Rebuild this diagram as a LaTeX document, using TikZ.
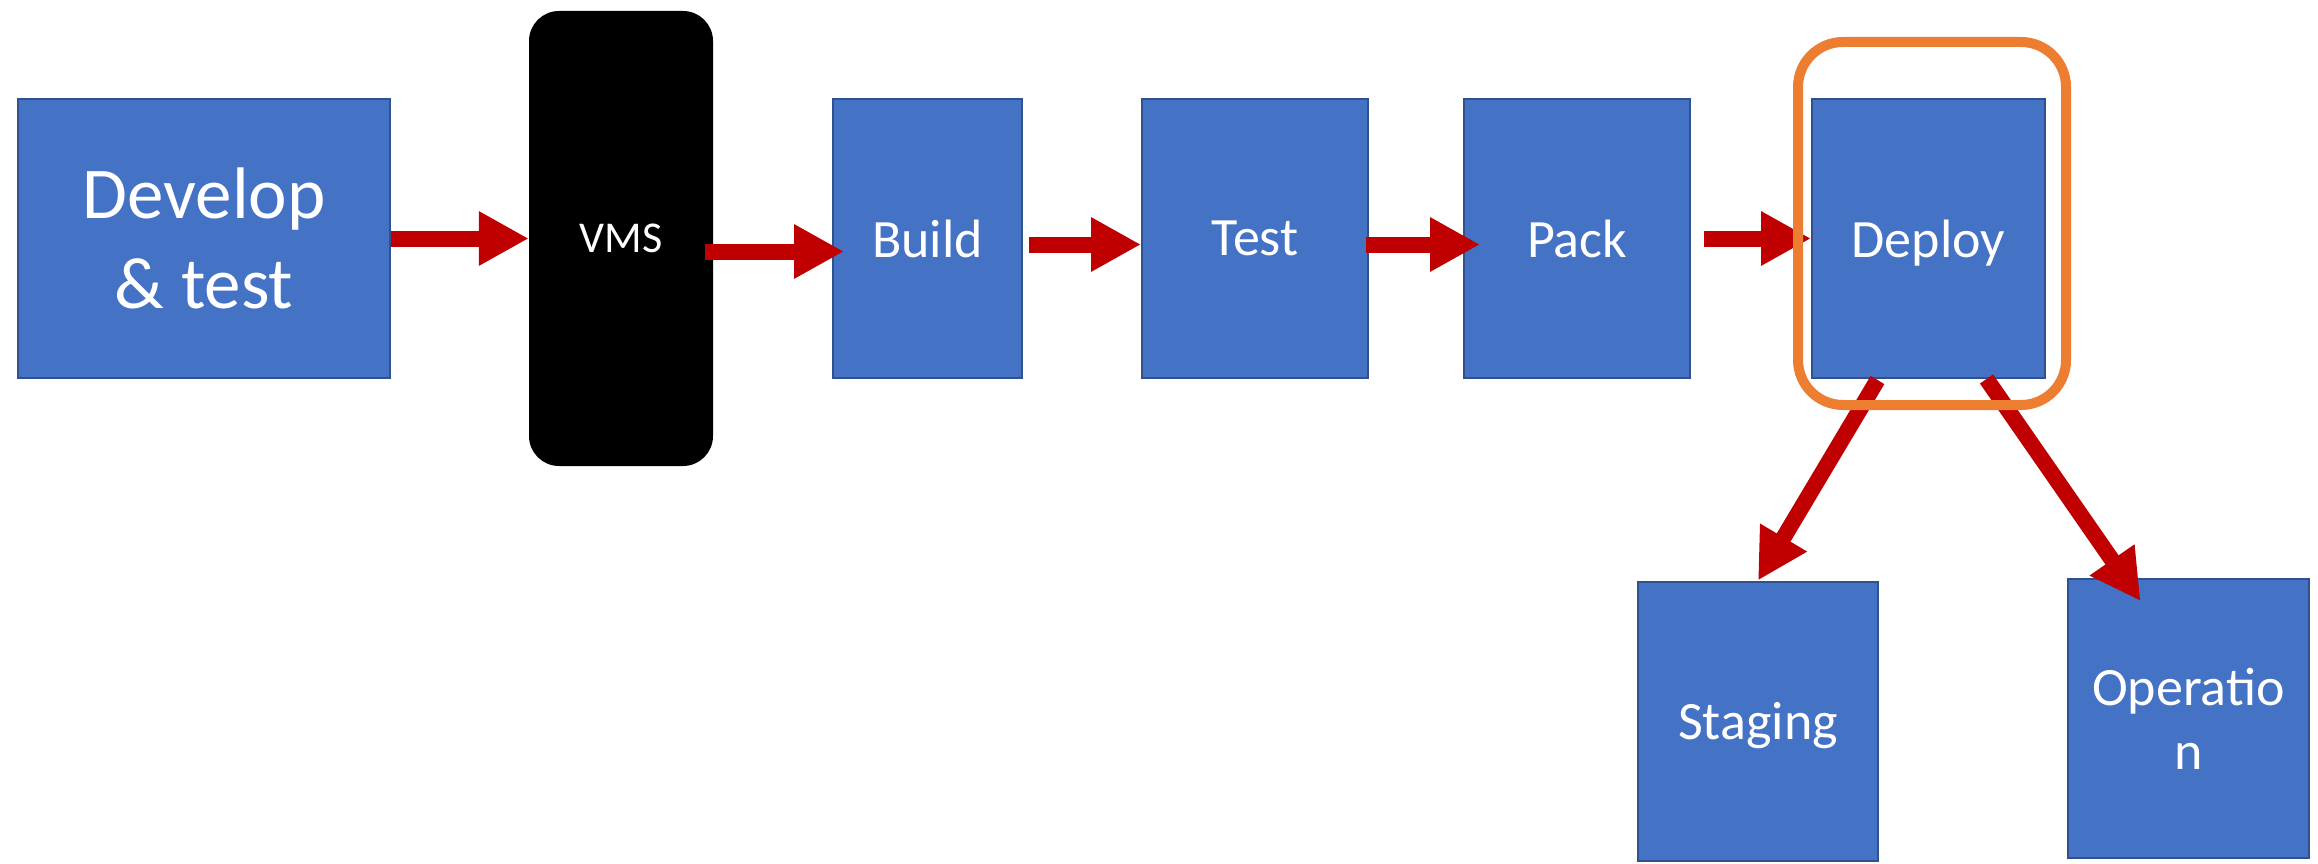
\documentclass[tikz,border=0pt]{standalone}
\usepackage{fontspec}
\setmainfont{Carlito}
\usetikzlibrary{arrows.meta,calc}

\definecolor{cajaazul}{HTML}{4472C4}
\definecolor{bordeazul}{HTML}{2F528F}
\definecolor{flecharoja}{HTML}{C00000}
\definecolor{marconaranja}{HTML}{ED7D31}

\tikzset{
  etapa/.style={
    draw=bordeazul,
    line width=2pt,
    fill=cajaazul,
    text=white,
    minimum height=279pt,
    inner sep=0pt,
    text depth=0pt,
    align=center,
    font=\fontsize{54pt}{64pt}\selectfont
  },
  flecha/.style={
    draw=flecharoja,
    line width=16pt,
    -{Triangle[length=50pt,width=51pt]}
  }
}

\begin{document}
\begin{tikzpicture}[x=1pt,y=-1pt]

  \useasboundingbox (0,0) rectangle (2318,864);

  % Fila superior
  \node[etapa, minimum width=372pt,
    font=\fontsize{73pt}{90pt}\selectfont]
    (develop) at (204,238.5) {Develop\\\& test};

  \node[
    fill=black,
    rounded corners=30pt,
    minimum width=184pt,
    minimum height=455pt,
    text=white,
    font=\fontsize{44pt}{53pt}\selectfont
  ]
    (vms) at (621,238.5) {VMS};

  \node[etapa, minimum width=189pt]
    (build) at (927.5,238.5) {Build};

  \node[etapa, minimum width=226pt]
    (test) at (1255,238.5) {Test};

  \node[etapa, minimum width=226pt]
    (pack) at (1577,238.5) {Pack};

  \node[etapa, minimum width=233pt]
    (deploy) at (1928.5,238.5) {Deploy};

  % Destinos del despliegue
  \node[etapa, minimum width=240pt]
    (staging) at (1758,721) {Staging};

  \node[etapa, minimum width=241pt]
    (operation) at (2188.5,718.5) {Operatio\\n};

  % Flechas horizontales
  \draw[flecha]
    (develop.east) -- (vms.west);

  \draw[flecha]
    ($(vms.east)+(-8,13)$) -- ($(build.west)+(12,13)$);

  \draw[flecha]
    ($(build.east)+(6,6)$) -- ($(test.west)+(0,6)$);

  \draw[flecha]
    ($(test.east)+(-3,6)$) -- ($(pack.west)+(17,6)$);

  \draw[flecha]
    ($(pack.east)+(13,0)$) -- (deploy.west);

  % Flechas diagonales
  \draw[flecha]
    ($(deploy.south)+(-51,1)$) -- (staging.north);

  \draw[flecha]
    ($(deploy.south)+(58,0)$) -- ($(operation.north)+(-48,23)$);

  % Marco alrededor de Deploy
  \node[
    draw=marconaranja,
    line width=10pt,
    rounded corners=45pt,
    minimum width=268pt,
    minimum height=363pt
  ]
    (marco) at (1932,223.5) {};

\end{tikzpicture}
\end{document}
